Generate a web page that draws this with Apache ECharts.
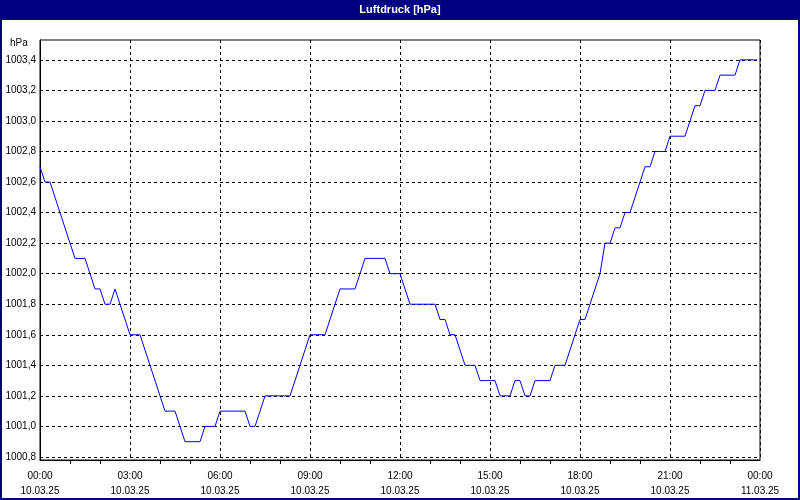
<!DOCTYPE html>
<html><head><meta charset="utf-8">
<script src="https://cdn.jsdelivr.net/npm/echarts@6/dist/echarts.min.js"></script>
<style>html,body{margin:0;padding:0;background:#fff}#c{width:800px;height:500px}</style>
</head><body><div id="c"></div>
<script>
const titleText = 'Luftdruck [hPa]';
const unitText = 'hPa';
const minutes = [0,10,20,70,90,110,120,130,140,150,180,200,250,270,290,320,330,350,360,410,420,430,450,500,540,570,600,630,650,690,700,720,730,740,790,800,810,820,830,850,870,880,910,920,940,950,960,970,980,990,1020,1030,1050,1080,1090,1120,1130,1140,1150,1160,1170,1180,1210,1220,1230,1250,1260,1290,1310,1320,1330,1350,1360,1390,1400,1434];
const pressure = [1002.7,1002.6,1002.6,1002.1,1002.1,1001.9,1001.9,1001.8,1001.8,1001.9,1001.6,1001.6,1001.1,1001.1,1000.9,1000.9,1001.0,1001.0,1001.1,1001.1,1001.0,1001.0,1001.2,1001.2,1001.6,1001.6,1001.9,1001.9,1002.1,1002.1,1002.0,1002.0,1001.9,1001.8,1001.8,1001.7,1001.7,1001.6,1001.6,1001.4,1001.4,1001.3,1001.3,1001.2,1001.2,1001.3,1001.3,1001.2,1001.2,1001.3,1001.3,1001.4,1001.4,1001.7,1001.7,1002.0,1002.2,1002.2,1002.3,1002.3,1002.4,1002.4,1002.7,1002.7,1002.8,1002.8,1002.9,1002.9,1003.1,1003.1,1003.2,1003.2,1003.3,1003.3,1003.4,1003.4];
const yTicks = [1000.8,1001.0,1001.2,1001.4,1001.6,1001.8,1002.0,1002.2,1002.4,1002.6,1002.8,1003.0,1003.2,1003.4];
const xTickLabels = ['00:00\n10.03.25','03:00\n10.03.25','06:00\n10.03.25','09:00\n10.03.25','12:00\n10.03.25','15:00\n10.03.25','18:00\n10.03.25','21:00\n10.03.25','00:00\n11.03.25'];
const FONT = 'Liberation Sans';
const chart = echarts.init(document.getElementById('c'), null, {renderer:'canvas'});
chart.setOption({
  animation:false,
  backgroundColor:'#fff',
  grid:{left:40,right:40,top:40,bottom:40,show:true,borderColor:'#000',borderWidth:1,backgroundColor:'transparent'},
  graphic:[
    {type:'rect',position:[0,0],shape:{x:0,y:0,width:800,height:20},style:{fill:'#000080'},z:10},
    {type:'text',left:'center',top:4,style:{text:titleText,fill:'#fff',font:'bold 11px "Liberation Sans"'},z:11},
    {type:'rect',position:[0,0],shape:{x:1,y:1,width:798,height:498},style:{fill:'none',stroke:'#000080',lineWidth:2},z:10},
    {type:'text',position:[10,38],style:{text:unitText,fill:'#000',font:'10px "Liberation Sans"'},z:11}
  ],
  xAxis:{type:'value',min:0,max:1440,interval:180,
    axisLine:{show:true,lineStyle:{color:'#000'}},
    axisTick:{show:false},
    minorTick:{show:true,splitNumber:3,length:4,lineStyle:{color:'#000'}},
    splitLine:{show:true,lineStyle:{color:'#000',type:[3,3],width:1}},
    axisLabel:{color:'#000',fontFamily:FONT,fontSize:10,margin:9,lineHeight:15,
      formatter:(v)=>xTickLabels[Math.round(v/180)]}
  },
  yAxis:{type:'value',min:1000.78,max:1003.53,
    axisLine:{show:true,lineStyle:{color:'#000'}},
    axisTick:{show:false,customValues:yTicks},
    splitLine:{show:true,lineStyle:{color:'#000',type:[3,3],width:1}},
    axisLabel:{color:'#000',fontFamily:FONT,fontSize:10,margin:4,customValues:yTicks,
      formatter:(v)=>v.toFixed(1).replace('.',',')}
  },
  series:[{type:'line',data:minutes.map((m,i)=>[m,pressure[i]]),showSymbol:false,
    lineStyle:{color:'#0000ff',width:1},itemStyle:{color:'#0000ff'}}]
});
</script></body></html>
